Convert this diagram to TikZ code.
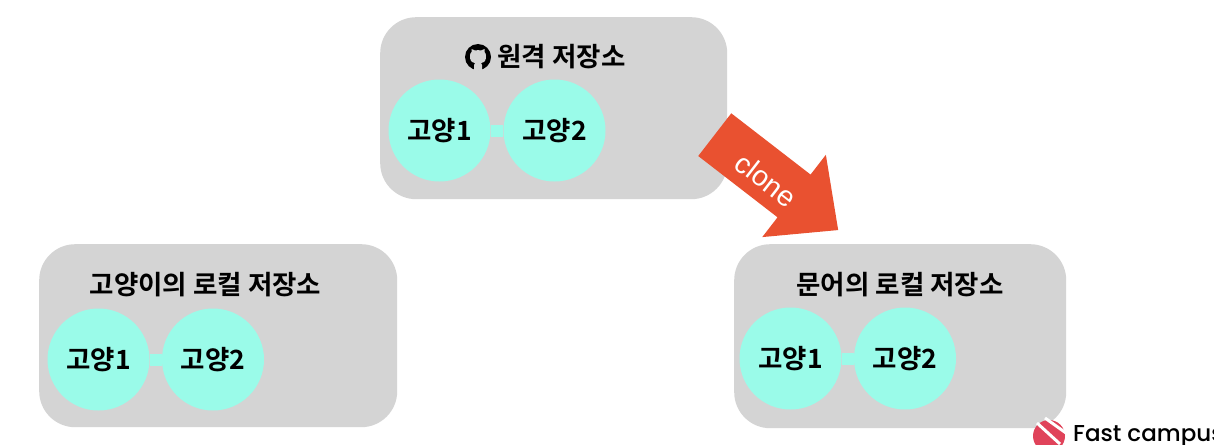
\documentclass[tikz,border=0pt]{standalone}
\usepackage{fontspec}
\setmainfont{Noto Sans CJK KR Bold}
\newfontfamily\latinfont{Poppins Medium}
\newfontfamily\clonefont{Liberation Sans}
\usetikzlibrary{shapes.arrows}
\definecolor{boxgray}{HTML}{D4D4D4}
\definecolor{repoaqua}{HTML}{9AFBE9}
\definecolor{clonered}{HTML}{E95130}
\definecolor{logored}{HTML}{E0435A}
\tikzset{
  repobox/.style={fill=boxgray, rounded corners=36pt, inner sep=0pt, anchor=north west},
  branch/.style={circle, fill=repoaqua, minimum size=102pt, inner sep=0pt, font=\fontsize{26.5}{26.5}\selectfont},
  branchlink/.style={repoaqua, line width=12pt},
  repotitle/.style={font=\fontsize{26.5}{26.5}\selectfont, inner sep=0pt},
}
\begin{document}
\begin{tikzpicture}[x=1pt,y=-1pt]
\clip (0,0) rectangle (1214,444);
\fill[white] (0,0) rectangle (1214,444);
% repositories
\node[repobox, minimum width=347pt, minimum height=182pt] (remote) at (380,17) {};
\node[repobox, minimum width=358pt, minimum height=183pt] (catlocal) at (39,244) {};
\node[repobox, minimum width=332pt, minimum height=184pt] (octolocal) at (734,244) {};
% remote
\node[branch] (remoteA) at (439.5,130.5) {고양1};
\node[branch] (remoteB) at (554.5,130.5) {고양2};
\draw[branchlink] (remoteA) -- (remoteB);
\node[repotitle] (remotetitle) at (561.5,56.5) {원격 저장소};
% github mark
\fill (478,57) circle (13);
\fill[boxgray] (474,70.5) -- (474,65) .. controls (474,64) and (474,63.5) .. (475,63)
  .. controls (471,62.5) and (470,60) .. (470,56) .. controls (470,54) and (470.5,53) .. (471.5,52)
  .. controls (471,51) and (471,50) .. (471.5,49) .. controls (473,49) and (474,50) .. (475,50.5)
  .. controls (477,50) and (479,50) .. (481,50.5) .. controls (482,50) and (483,49) .. (484.5,49)
  .. controls (485,50) and (485,51) .. (484.5,52) .. controls (485.5,53) and (486,54) .. (486,56)
  .. controls (486,60) and (485,62.5) .. (481,63) .. controls (482,63.5) and (482,64) .. (482,65)
  -- (482,70.5) -- cycle;
% cat
\node[branch] (catA) at (98.5,359.5) {고양1};
\node[branch] (catB) at (213,359.5) {고양2};
\draw[branchlink] (catA) -- (catB);
\node[repotitle] (cattitle) at (205.5,284.5) {고양이의 로컬 저장소};
% octopus
\node[branch] (octoA) at (790.5,358.5) {고양1};
\node[branch] (octoB) at (905,358.5) {고양2};
\draw[branchlink] (octoA) -- (octoB);
\node[repotitle] (octotitle) at (900,284.5) {문어의 로컬 저장소};
% clone arrow
\node[single arrow, fill=clonered, rotate=-37.7, minimum width=104pt, minimum height=156pt,
  single arrow head extend=25pt, single arrow tip angle=86, single arrow head indent=0pt,
  inner sep=0pt, text height=53.6pt, text depth=0pt] (clonearrow) at (765,173.5) {};
\node[rotate=-37.7, white, font=\clonefont\fontsize{28.5}{28.5}\selectfont, inner sep=0pt] (clonelabel) at (766,180) {clone};
% logo
\fill[logored] (1049,436) circle (16);
\draw[white, line width=3pt] (1037,423) -- (1060,444);
\draw[white, line width=3pt] (1045,418) -- (1066,433);
\node[anchor=base west, inner sep=0pt, font=\latinfont\fontsize{23}{23}\selectfont, text=black] (logotext) at (1073,441) {Fast campus};
\end{tikzpicture}
\end{document}
